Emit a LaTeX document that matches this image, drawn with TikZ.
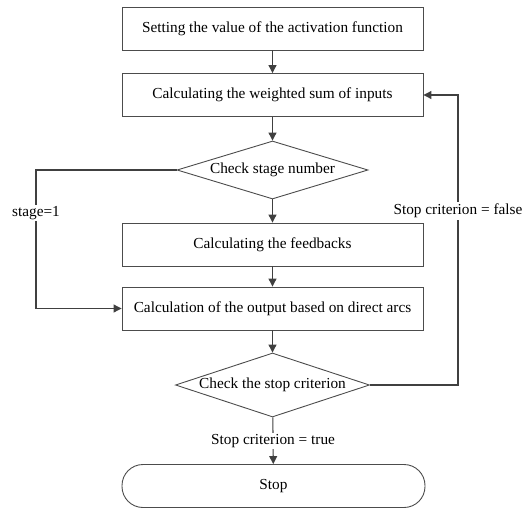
\documentclass[tikz,border=0pt]{standalone}
\usepackage{fontspec}
\setmainfont{Liberation Serif}
\usetikzlibrary{shapes.geometric, arrows.meta, positioning}

\tikzset{
  procbox/.style={draw=black!70, line width=0.9pt, rectangle, minimum width=301pt, minimum height=43pt, inner sep=0pt},
  decision/.style={draw=black!70, line width=0.9pt, diamond, aspect=3.2, inner sep=0pt},
  terminal/.style={draw=black!70, line width=0.9pt, rectangle, rounded corners=21pt, minimum width=303pt, minimum height=43pt, inner sep=0pt},
  arr/.style={draw=black!75, line width=1.1pt, -{Triangle[width=8pt,length=8pt]}},
  lab/.style={fill=white, inner sep=1.5pt}
}

\begin{document}
\begin{tikzpicture}[x=1pt, y=-1pt, font=\fontsize{15.3}{18}\selectfont]
\useasboundingbox (0,0) rectangle (523,509);
% main column
\node[procbox] (setact) at (272.5,28.5) {Setting the value of the activation function};
\node[procbox] (wsum) at (272.5,95) {Calculating the weighted sum of inputs};
\node[decision, minimum width=191pt, minimum height=58pt] (stage) at (272.5,170) {Check stage number};
\node[procbox] (feedb) at (272.5,244.5) {Calculating the feedbacks};
\node[procbox] (outp) at (272.5,308.5) {Calculation of the output based on direct arcs};
\node[decision, minimum width=194pt, minimum height=64pt] (crit) at (272.5,385) {Check the stop criterion};
\node[terminal] (stop) at (273.5,486) {Stop};
% turning points
\coordinate (leftturn) at (36,170);
\coordinate (rightturn) at (458,385);
% connectors
\draw[arr] (setact) -- (wsum);
\draw[arr] (wsum) -- (stage);
\draw[arr] (stage) -- (feedb);
\draw[arr] (feedb) -- (outp);
\draw[arr] (outp) -- (crit);
\draw[arr] (crit) -- node[lab] {Stop criterion = true} (stop);
\draw[arr] (stage.west) -- (leftturn) |- node[lab, pos=0.155] {stage=1} (outp.west);
\draw[arr] (crit.east) -- (rightturn) |- node[lab, pos=0.3] {Stop criterion = false} (wsum.east);
\end{tikzpicture}
\end{document}
